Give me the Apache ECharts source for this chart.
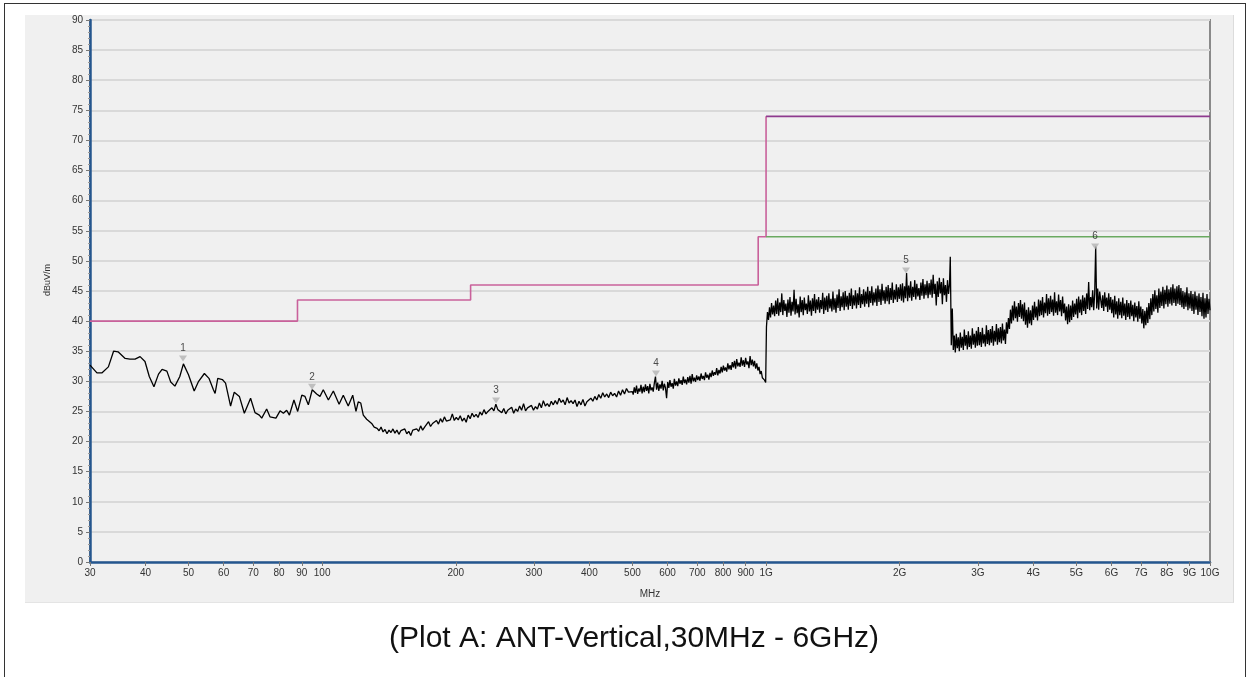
<!DOCTYPE html>
<html>
<head>
<meta charset="utf-8">
<script src="https://cdn.jsdelivr.net/npm/echarts@6/dist/echarts.min.js"></script>
<style>
  html, body { margin: 0; padding: 0; background: #fff; overflow: hidden; }
  #frame { position: absolute; left: 4px; top: 3px; width: 1242px; height: 700px; border: 1px solid #333; box-sizing: border-box; }
  #panel { position: absolute; left: 25px; top: 15px; width: 1208px; height: 587px; background: #f0f0f0; border-right: 1px solid #dcdcdc; border-bottom: 1px solid #e4e4e4; }
  #chart { position: absolute; left: 0; top: 0; width: 1249px; height: 677px; }
</style>
</head>
<body>
<div id="frame"></div>
<div id="panel"></div>
<div id="chart"></div>
<script>
// ---------------- data ----------------
const X_TICKS = [30, 40, 50, 60, 70, 80, 90, 100, 200, 300, 400, 500, 600, 700, 800, 900, 1000, 2000, 3000, 4000, 5000, 6000, 7000, 8000, 9000, 10000];
const Y_MIN = 0, Y_MAX = 90, Y_STEP = 5;

// trace 30 - 131 MHz : [MHz, dBuV/m]
const TRACE_LOW = [
  [30,32.7],[31.1,31.4],[31.9,31.4],[33.0,32.4],[33.9,35.0],[34.7,34.9],[36.0,33.8],[36.9,33.7],[37.9,33.7],[38.9,34.1],
  [39.9,33.3],[40.8,30.8],[41.8,29.1],[42.8,31.2],[43.6,32.0],[44.7,31.7],[45.6,29.9],[46.6,29.2],[47.8,30.8],[48.7,32.9],
  [50.0,31.1],[51.5,28.4],[52.6,29.9],[54.3,31.3],[55.6,30.5],[56.9,28.6],[57.4,28.0],[58.2,30.5],[59.6,30.3],[60.6,29.7],
  [62.2,25.9],[63.4,28.2],[65.1,27.5],[66.8,24.7],[69.0,27.2],[70.6,24.8],[72.2,24.4],[73.1,23.9],[75.0,25.4],[76.3,24.1],
  [78.7,23.9],[80.4,25.1],[81.8,24.7],[83.2,25.2],[84.4,24.4],[86.4,26.9],[88.1,25.0],[90.0,27.7],[91.5,27.5],[93.1,26.1],
  [95.0,28.6],[97.2,27.9],[98.9,27.5],[100.6,28.6],[103.3,26.9],[106.0,28.4],[109.2,26.2],[111.6,27.7],[114.5,25.9],[117.2,27.7],
  [119.2,25.0],[120.6,26.6],[122.2,26.4],[123.8,24.4],[126.0,23.7],[129.3,23.0],[131.0,22.4]
];

// sweep 133 - 500 MHz
const SWEEP_B1 = { f0: 133, f1: 500, vals: [
  22.2,21.8,22.4,21.6,22.0,21.3,21.9,21.5,22.1,21.4,
  21.9,21.2,21.8,21.5,22.1,21.3,21.7,21.0,21.9,21.6,
  22.1,21.7,22.6,21.9,22.4,22.2,23.3,22.5,23.0,22.8,
  23.5,22.9,23.8,23.2,24.1,23.4,23.7,23.6,24.6,23.5,
  24.0,23.6,24.3,23.4,23.9,23.2,24.4,23.8,24.7,24.1,
  24.5,24.0,24.9,24.4,25.3,24.6,25.0,24.7,25.6,25.1,
  26.2,25.3,25.6,24.8,25.5,24.6,25.2,24.9,25.7,24.7,
  25.4,25.0,25.9,25.2,26.3,25.1,25.6,25.3,26.0,25.2,
  25.8,25.4,26.4,25.6,26.8,25.9,26.3,25.8,26.7,26.1,
  26.8,26.2,27.2,26.5,26.9,26.1,27.3,26.4,26.8,26.3,
  26.9,25.8,26.7,26.1,27.0,25.9,26.6,26.4,27.2,26.7,
  27.5,26.9,27.8,27.2,28.1,27.4,27.9,27.3,28.2,27.6,
  28.0,27.4,28.4,27.7,28.6,27.9,28.8,28.2,28.5,28.3
]};

// sweep 502 - 998 MHz
const SWEEP_B2 = { f0: 502, f1: 998, vals: [
  27.8,29.0,28.1,29.3,27.9,28.8,28.3,29.4,28.0,29.1,
  28.2,29.5,28.4,29.2,28.0,29.6,28.5,29.0,28.3,29.7,
  30.8,28.6,29.8,28.4,29.5,28.8,30.1,28.5,29.6,28.9,
  27.2,29.9,28.9,30.2,29.1,29.7,28.8,30.4,29.3,30.0,
  29.2,30.5,29.6,30.2,29.4,30.8,29.7,30.3,29.5,30.7,
  29.8,30.9,29.6,31.2,30.0,30.6,29.9,31.0,30.2,30.8,
  30.1,31.3,30.4,30.9,30.2,31.5,30.6,31.1,30.3,31.4,
  30.7,31.8,30.9,31.5,31.1,32.2,31.0,31.9,31.3,32.4,
  31.5,32.6,31.8,32.3,31.6,33.0,32.0,32.7,31.9,33.2,
  32.3,33.4,32.1,33.7,32.5,33.1,32.4,34.0,32.6,33.5,
  32.4,33.9,32.8,33.3,32.2,34.2,32.7,33.6,32.5,33.4,
  32.1,33.0,31.8,32.4,31.2,31.7,30.6,30.9,30.2,29.8
]};

// sweep 1002 - 2590 MHz
const SWEEP_C = { f0: 1002, f1: 2590, vals: [
  39.0,41.5,40.2,42.3,40.6,43.0,41.1,42.6,40.8,43.4,
  41.2,43.8,40.9,43.1,41.5,44.6,41.0,43.5,41.7,42.9,
  40.7,43.6,41.4,44.0,40.9,43.2,41.6,45.2,41.1,43.7,
  41.3,42.8,40.6,44.1,41.5,43.5,41.0,43.9,41.8,42.9,
  41.2,44.3,41.6,43.4,40.9,43.8,41.7,44.5,41.3,43.6,
  41.9,44.0,41.4,43.5,42.0,44.7,41.2,43.9,41.8,44.2,
  41.5,44.6,42.1,43.7,41.6,44.9,41.9,43.8,41.4,44.4,
  42.2,45.3,41.7,44.1,42.3,44.8,41.8,45.0,42.4,44.2,
  41.9,44.7,42.5,45.4,42.0,44.3,42.6,45.1,42.1,44.6,
  42.7,45.6,42.2,44.5,42.8,45.3,42.4,44.9,42.9,45.7,
  42.3,45.0,43.0,45.8,42.6,44.8,43.1,45.4,42.5,45.9,
  43.2,45.3,42.7,46.2,43.4,45.1,42.9,45.7,43.3,46.0,
  42.8,45.5,43.5,46.4,43.0,45.2,43.6,46.1,43.2,45.6,
  43.7,46.1,43.4,46.3,43.1,45.8,43.8,48.0,43.3,45.9,
  43.9,46.6,43.4,45.7,44.0,46.8,43.6,46.2,44.1,45.5,
  43.5,46.4,44.2,47.0,43.7,46.1,44.3,46.7,43.8,46.3,
  44.4,46.9,43.9,47.7,44.5,46.2,42.6,46.6,44.0,47.2,
  44.6,46.5,42.8,47.1,44.3,46.0,43.2,46.8,44.5,46.2
]};

// sweep 2600 MHz - 10 GHz
const SWEEP_D = { f0: 2600, f1: 10000, vals: [
  50.7,36.0,42.1,35.2,37.6,34.8,37.9,35.5,37.3,35.0,
  38.1,35.6,37.4,35.2,38.6,35.9,37.7,35.3,38.3,35.7,
  37.6,35.4,38.8,36.1,37.9,35.6,38.4,35.9,39.0,36.0,
  38.2,35.7,38.9,36.3,37.8,35.8,39.3,36.2,38.5,36.0,
  38.7,36.4,39.2,35.9,38.4,36.6,39.5,36.1,38.8,36.5,
  39.0,36.3,39.6,36.8,38.6,36.2,39.8,37.9,40.5,38.7,
  41.9,39.6,42.6,40.1,43.3,40.5,42.4,39.9,43.0,40.7,
  43.5,40.4,42.8,40.0,43.1,39.4,41.9,38.9,42.3,39.6,
  41.8,39.3,42.6,40.2,43.2,40.6,42.4,40.1,43.6,40.8,
  43.4,41.0,44.0,40.6,43.1,41.3,44.5,40.9,43.8,41.2,
  44.2,41.5,43.6,40.9,44.8,41.4,43.3,41.0,44.4,41.6,
  43.5,40.8,44.1,41.3,42.9,40.1,42.4,39.5,42.8,39.8,
  42.6,40.2,43.4,40.7,42.9,41.1,43.7,40.5,44.1,41.4,
  43.6,41.0,44.3,41.7,43.9,41.2,44.6,42.0,46.5,41.8,
  44.0,42.3,45.1,41.8,44.5,52.4,42.1,45.4,41.9,44.9,
  45.0,42.2,44.3,41.7,44.8,42.4,43.9,41.5,44.6,41.9,
  44.0,41.3,43.6,40.6,44.2,41.1,43.3,40.4,43.8,41.0,
  43.2,40.5,43.9,40.9,42.9,40.2,43.5,40.7,43.0,40.3,
  43.4,40.8,42.7,40.0,43.1,40.6,42.5,39.9,43.3,40.4,
  42.4,39.6,42.0,38.8,41.7,39.3,42.3,39.7,43.0,40.3,
  43.8,41.0,44.5,41.6,45.1,42.0,44.3,41.4,45.4,42.2,
  44.9,42.5,45.7,42.1,45.2,42.8,45.9,42.4,45.3,42.9,
  45.6,42.6,46.1,43.0,45.4,42.5,45.8,42.9,46.0,42.7,
  45.5,42.3,45.0,42.0,44.8,42.4,45.6,41.8,44.6,42.1,
  45.0,41.7,44.5,41.2,44.9,41.9,44.2,41.0,44.6,41.5,
  44.0,40.8,44.7,40.4,43.8,40.6,44.5,41.2,43.7,41.8
]};

// limit lines
const LIMIT_PK_F = [30, 88, 88, 216, 216, 960, 960, 1000, 1000];
const LIMIT_PK_V = [40, 40, 43.5, 43.5, 46, 46, 54, 54, 74];
const LIMIT_HI_F = [1000, 10000];
const LIMIT_HI_V = [74, 74];
const LIMIT_AV_F = [1000, 10000];
const LIMIT_AV_V = [54, 54];

// markers
const MARKER_ID = ['1', '2', '3', '4', '5', '6'];
const MARKER_F = [48.6, 94.9, 246.5, 565, 2067, 5511];
const MARKER_V = [33.8, 29.1, 26.8, 31.3, 48.4, 52.4];

// ---------------- build ----------------
const lg = f => Math.log10(f);
function sweep(s) {
  const a = lg(s.f0), b = lg(s.f1), n = s.vals.length;
  return s.vals.map((v, i) => [a + (b - a) * i / (n - 1), v]);
}
const trace = TRACE_LOW.map(p => [lg(p[0]), p[1]])
  .concat(sweep(SWEEP_B1), sweep(SWEEP_B2), sweep(SWEEP_C), sweep(SWEEP_D));
const pairs = (F, V) => F.map((f, i) => [lg(f), V[i]]);

const FONT = 'Liberation Sans, Arial, sans-serif';
const chart = echarts.init(document.getElementById('chart'), null, { renderer: 'canvas' });
chart.setOption({
  animation: false,
  backgroundColor: 'transparent',
  title: {
    text: '(Plot A: ANT-Vertical,30MHz - 6GHz)',
    left: 384, top: 619,
    textStyle: { fontFamily: FONT, fontSize: 30, fontWeight: 'normal', color: '#111' }
  },
  grid: {
    left: 90, right: 39, top: 20, bottom: 115,
    show: true, backgroundColor: '#f0f0f0', borderColor: '#8a8a8a', borderWidth: 2
  },
  xAxis: {
    type: 'value', min: lg(30), max: lg(10000),
    name: 'MHz', nameLocation: 'middle', nameGap: 27,
    nameTextStyle: { fontFamily: FONT, fontSize: 10, color: '#333' },
    axisLine: { show: true, lineStyle: { color: '#24568e', width: 2.5 } },
    axisTick: { show: true, customValues: X_TICKS.map(lg), length: 4, lineStyle: { color: '#777' } },
    axisLabel: {
      customValues: X_TICKS.map(lg), margin: 6,
      fontFamily: FONT, fontSize: 10, color: '#333',
      formatter: v => { const f = Math.round(Math.pow(10, v)); return f >= 1000 ? (f / 1000) + 'G' : String(f); }
    },
    splitLine: { show: false }
  },
  yAxis: {
    type: 'value', min: Y_MIN, max: Y_MAX, interval: Y_STEP,
    name: 'dBuV/m', nameLocation: 'middle', nameGap: 38,
    nameTextStyle: { fontFamily: FONT, fontSize: 9, color: '#333', padding: [0, 0, 0, 22] },
    axisLine: { show: true, lineStyle: { color: '#24568e', width: 2.5 } },
    axisTick: { show: true, length: 4, lineStyle: { color: '#777' } },
    minorTick: { show: true, splitNumber: 5, length: 2, lineStyle: { color: '#9a9a9a' } },
    axisLabel: { fontFamily: FONT, fontSize: 10, color: '#333', margin: 7 },
    splitLine: { show: true, lineStyle: { color: '#d9d9d9', width: 2 } }
  },
  series: [
    { type: 'line', data: pairs(LIMIT_PK_F, LIMIT_PK_V), showSymbol: false, lineStyle: { color: '#c9619b', width: 1.6 }, z: 3 },
    { type: 'line', data: pairs(LIMIT_HI_F, LIMIT_HI_V), showSymbol: false, lineStyle: { color: '#8e3b8e', width: 1.6 }, z: 3 },
    { type: 'line', data: pairs(LIMIT_AV_F, LIMIT_AV_V), showSymbol: false, lineStyle: { color: '#6aa960', width: 1.6 }, z: 3 },
    { type: 'line', data: trace, showSymbol: false, lineStyle: { color: '#000', width: 1.3 }, z: 4 },
    {
      type: 'scatter', data: MARKER_F.map((f, i) => [lg(f), MARKER_V[i]]),
      symbol: 'triangle', symbolRotate: 180, symbolSize: [8, 6],
      itemStyle: { color: '#b3b3b3' }, z: 5,
      label: {
        show: true, position: 'top', distance: 2,
        formatter: p => MARKER_ID[p.dataIndex],
        fontFamily: FONT, fontSize: 10, color: '#222'
      }
    }
  ]
});
</script>
</body>
</html>
